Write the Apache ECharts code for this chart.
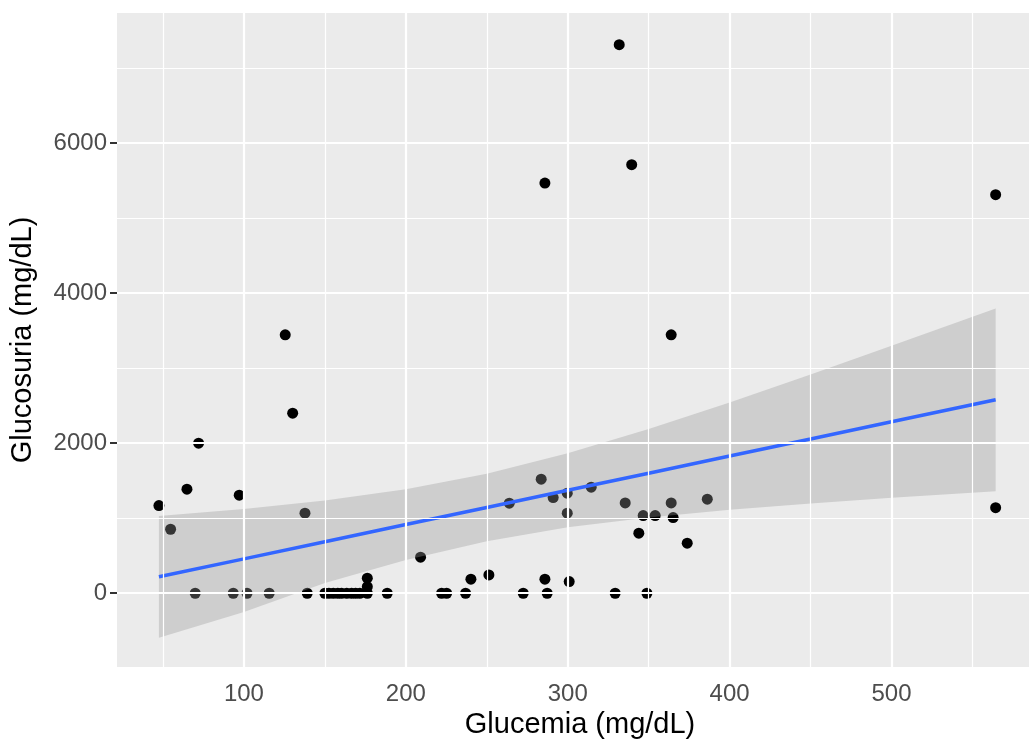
<!DOCTYPE html>
<html>
<head>
<meta charset="utf-8">
<script src="https://cdn.jsdelivr.net/npm/echarts@6/dist/echarts.min.js"></script>
<style>
html,body{margin:0;padding:0;background:#fff;}
#chart{width:1029px;height:745px;}
</style>
</head>
<body>
<div id="chart"></div>
<script>
// Points
const glucemia = [47.5, 54.7, 64.8, 69.9, 72.0, 93.4, 97.1, 101.9, 115.6, 125.5,
  130.1, 137.7, 139.1, 150.0, 152.5, 155.2, 158.0, 160.3, 163.5, 166.5,
  169.0, 171.6, 176.2, 176.2, 176.2, 188.5, 209.1, 222.1, 225.2, 236.9,
  240.2, 251.3, 263.9, 272.5, 283.6, 285.9, 285.9, 287.3, 291.0, 299.7,
  299.7, 300.9, 314.5, 329.3, 331.8, 335.5, 339.5, 343.9, 346.6, 348.9,
  354.0, 363.9, 363.9, 365.1, 373.8, 386.2, 564.3, 564.3];
const glucosuria = [1168, 853, 1387, 0, 2000, 0, 1307, 0, 0, 3444,
  2400, 1067, 0, 0, 0, 0, 0, 0, 0, 0,
  0, 0, 0, 88, 200, 0, 480, 0, 0, 0,
  187, 244, 1200, 0, 1520, 5467, 187, 0, 1275, 1333,
  1067, 155, 1413, 0, 7311, 1204, 5711, 800, 1035, 0,
  1035, 3444, 1204, 1008, 667, 1253, 5311, 1141];

// Smoothed linear fit and its confidence band
const smoothX     = [47.5, 100, 150, 200, 250, 300, 350, 400, 450, 500, 564.3];
const smoothFit   = [219, 458, 687, 915, 1143, 1372, 1600, 1828, 2056, 2285, 2578];
const smoothLower = [-593, -250, 137, 444, 694, 878, 1011, 1113, 1197, 1273, 1360];
const smoothUpper = [1031, 1124, 1237, 1386, 1592, 1866, 2189, 2543, 2915, 3297, 3796];

const xTicks = [100, 200, 300, 400, 500];
const xMinorTicks = [50, 150, 250, 350, 450, 550];
const yTicks = [0, 2000, 4000, 6000];
const yMinorTicks = [1000, 3000, 5000, 7000];
const xTitle = 'Glucemia (mg/dL)';
const yTitle = 'Glucosuria (mg/dL)';

const FONT = "'Liberation Sans', Arial, sans-serif";
const gridLines = [];
xMinorTicks.forEach(v => gridLines.push({ xAxis: v, lineStyle: { color: '#ffffff', width: 1.2, type: 'solid' } }));
yMinorTicks.forEach(v => gridLines.push({ yAxis: v, lineStyle: { color: '#ffffff', width: 1.2, type: 'solid' } }));
xTicks.forEach(v => gridLines.push({ xAxis: v, lineStyle: { color: '#ffffff', width: 2.2, type: 'solid' } }));
yTicks.forEach(v => gridLines.push({ yAxis: v, lineStyle: { color: '#ffffff', width: 2.2, type: 'solid' } }));

const chart = echarts.init(document.getElementById('chart'), null, { renderer: 'canvas' });
chart.setOption({
  animation: false,
  backgroundColor: '#ffffff',
  grid: {
    left: 117, right: 0, top: 13, bottom: 78,
    show: true, backgroundColor: '#EBEBEB', borderWidth: 0
  },
  xAxis: {
    type: 'value', min: 21.6, max: 584.9,
    axisLine: { show: false },
    axisTick: { show: true, customValues: xTicks, length: 7, lineStyle: { color: '#333333', width: 2 } },
    axisLabel: { customValues: xTicks, fontSize: 24, color: '#4D4D4D', margin: 15, fontFamily: FONT,
      formatter: v => String(v) },
    splitLine: { show: false },
    name: xTitle, nameLocation: 'middle', nameGap: 41,
    nameTextStyle: { fontSize: 29, color: '#000000', fontFamily: FONT, padding: [0, 0, 0, 14] }
  },
  yAxis: {
    type: 'value', min: -983, max: 7733,
    axisLine: { show: false },
    axisTick: { show: true, customValues: yTicks, length: 7, lineStyle: { color: '#333333', width: 2 } },
    axisLabel: { customValues: yTicks, fontSize: 24, color: '#4D4D4D', margin: 10, fontFamily: FONT,
      formatter: v => String(v) },
    splitLine: { show: false },
    name: yTitle, nameLocation: 'middle', nameGap: 80,
    nameTextStyle: { fontSize: 29, color: '#000000', fontFamily: FONT }
  },
  series: [
    {
      type: 'scatter', data: [], z: 1, silent: true,
      markLine: { silent: true, symbol: ['none', 'none'], label: { show: false }, animation: false, data: gridLines }
    },
    {
      type: 'scatter', z: 2, symbolSize: 11,
      itemStyle: { color: '#000000', opacity: 1 },
      data: glucemia.map((x, i) => [x, glucosuria[i]])
    },
    {
      type: 'custom', z: 3, silent: true,
      data: [[smoothX[0], smoothFit[0]]],
      renderItem: function (params, api) {
        const pts = [];
        for (let i = 0; i < smoothX.length; i++) pts.push(api.coord([smoothX[i], smoothUpper[i]]));
        for (let i = smoothX.length - 1; i >= 0; i--) pts.push(api.coord([smoothX[i], smoothLower[i]]));
        return { type: 'polygon', shape: { points: pts, smooth: 0 }, style: { fill: 'rgba(153,153,153,0.35)' } };
      }
    },
    {
      type: 'line', z: 4, showSymbol: false, silent: true,
      lineStyle: { color: '#3366FF', width: 3.5 },
      data: smoothX.map((x, i) => [x, smoothFit[i]])
    }
  ]
});
</script>
</body>
</html>
